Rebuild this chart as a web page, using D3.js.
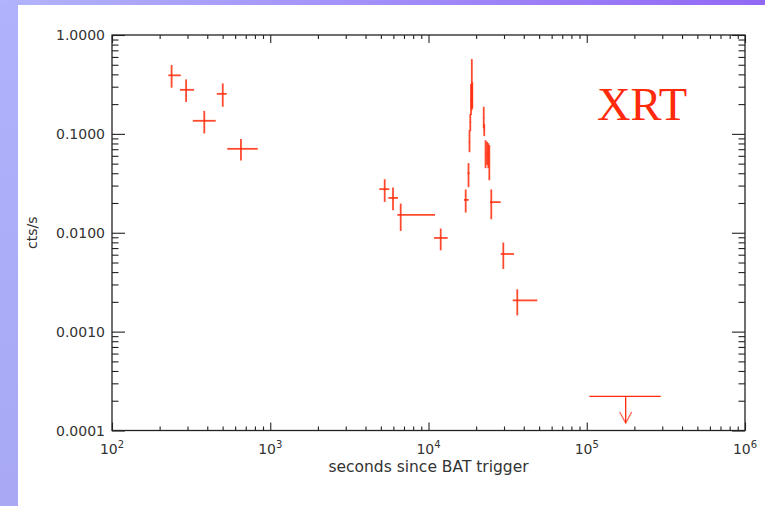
<!DOCTYPE html>
<html>
<head>
<meta charset="utf-8">
<script src="https://cdn.jsdelivr.net/npm/d3@7"></script>
<style>
  html, body { margin: 0; padding: 0; background: #fff; }
  svg { display: block; }
</style>
</head>
<body>
<svg id="chart" width="765" height="506"></svg>
<script>
// ---- data ----
const times    = [238, 294, 383, 501, 653, 5287, 5968, 6673, 11945,
                  17180, 17900, 18160, 18370, 18560, 18780, 18920,
                  22340, 22500, 22930, 23450, 23880, 24230,
                  24930, 29700, 36400];
const timeLo   = [227, 269, 324, 459, 535, 4889, 5572, 6350, 10830,
                  16760, 17640, 18000, 18250, 18450, 18680, 18850,
                  22200, 22400, 22800, 23300, 23750, 24100,
                  24470, 28590, 34050];
const timeHi   = [272, 330, 452, 531, 834, 5653, 6417, 10990, 13220,
                  17950, 18160, 18300, 18500, 18680, 18880, 19000,
                  22480, 22600, 23050, 23600, 24000, 24350,
                  28590, 34700, 48700];
const rates    = [0.391, 0.279, 0.1356, 0.254, 0.0706, 0.0276, 0.0225, 0.01515, 0.00886,
                  0.0215, 0.0400, 0.0825, 0.1315, 0.220, 0.265, 0.247,
                  0.1443, 0.109, 0.0609, 0.0638, 0.0609, 0.0518,
                  0.0204, 0.0061, 0.00207];
const rateLo   = [0.293, 0.210, 0.101, 0.188, 0.0538, 0.0205, 0.0169, 0.01043, 0.00665,
                  0.0160, 0.0289, 0.0653, 0.1066, 0.155, 0.174, 0.182,
                  0.1135, 0.0949, 0.045, 0.0483, 0.045, 0.034,
                  0.0137, 0.0043, 0.00146];
const rateHi   = [0.497, 0.356, 0.171, 0.324, 0.0885, 0.0348, 0.0287, 0.01975, 0.01103,
                  0.0274, 0.0506, 0.109, 0.1585, 0.319, 0.571, 0.334,
                  0.188, 0.1256, 0.0864, 0.0831, 0.0806, 0.0769,
                  0.0274, 0.00796, 0.00268];
// upper limit
const limitTime   = [176200];
const limitTimeLo = [103800];
const limitTimeHi = [293400];
const limitRate   = [0.000221];
const limitArrowTo = [0.000119];

const xTickValues = [1e2, 1e3, 1e4, 1e5, 1e6];
const xTickExponents = ["2", "3", "4", "5", "6"];
const yTickValues = [1e-4, 1e-3, 1e-2, 1e-1, 1];
const yTickLabels = ["0.0001", "0.0010", "0.0100", "0.1000", "1.0000"];
const xTitle = "seconds since BAT trigger";
const yTitle = "cts/s";
const panelLabel = "XRT";

// ---- layout ----
const svg = d3.select("#chart");
const W = 765, H = 506;
const L = 112, R = 745, T = 35, B = 430.5;
const red = "#ff2a0a";
const axisColor = "#222";
const textColor = "#333";

// background frame (gradient strips)
const defs = svg.append("defs");
const gTop = defs.append("linearGradient").attr("id", "gtop").attr("x1", "0").attr("x2", "1").attr("y1", "0").attr("y2", "0");
gTop.append("stop").attr("offset", "0").attr("stop-color", "#b2b4fc");
gTop.append("stop").attr("offset", "1").attr("stop-color", "#9268f4");
const gLeft = defs.append("linearGradient").attr("id", "gleft").attr("x1", "0").attr("x2", "0").attr("y1", "0").attr("y2", "1");
gLeft.append("stop").attr("offset", "0").attr("stop-color", "#b0b2fc");
gLeft.append("stop").attr("offset", "1").attr("stop-color", "#a8a8f4");
svg.append("rect").attr("x", 0).attr("y", 0).attr("width", W).attr("height", H).attr("fill", "#fff");
svg.append("rect").attr("x", 0).attr("y", 0).attr("width", 18).attr("height", H).attr("fill", "url(#gleft)");
svg.append("rect").attr("x", 0).attr("y", 0).attr("width", W).attr("height", 5).attr("fill", "url(#gtop)");

// ---- scales ----
const x = d3.scaleLog().domain([1e2, 1e6]).range([L, R]);
const y = d3.scaleLog().domain([1e-4, 1]).range([B, T]);

const minorX = [];
for (let e = 2; e < 6; e++) for (let m = 2; m <= 9; m++) minorX.push(m * Math.pow(10, e));
const minorY = [];
for (let e = -4; e < 0; e++) for (let m = 2; m <= 9; m++) minorY.push(m * Math.pow(10, e));

function styleAxis(g) {
  g.select(".domain").remove();
  g.selectAll("line").attr("stroke", axisColor).attr("stroke-width", 1.1);
  g.selectAll("text").remove();
}
// inward ticks on all four sides
svg.append("g").attr("transform", `translate(0,${B})`).call(d3.axisBottom(x).tickValues(xTickValues).tickSize(-8)).call(styleAxis);
svg.append("g").attr("transform", `translate(0,${B})`).call(d3.axisBottom(x).tickValues(minorX).tickSize(-4)).call(styleAxis);
svg.append("g").attr("transform", `translate(0,${T})`).call(d3.axisTop(x).tickValues(xTickValues).tickSize(-8)).call(styleAxis);
svg.append("g").attr("transform", `translate(0,${T})`).call(d3.axisTop(x).tickValues(minorX).tickSize(-4)).call(styleAxis);
svg.append("g").attr("transform", `translate(${L},0)`).call(d3.axisLeft(y).tickValues(yTickValues).tickSize(-13)).call(styleAxis);
svg.append("g").attr("transform", `translate(${L},0)`).call(d3.axisLeft(y).tickValues(minorY).tickSize(-6.5)).call(styleAxis);
svg.append("g").attr("transform", `translate(${R},0)`).call(d3.axisRight(y).tickValues(yTickValues).tickSize(-13)).call(styleAxis);
svg.append("g").attr("transform", `translate(${R},0)`).call(d3.axisRight(y).tickValues(minorY).tickSize(-6.5)).call(styleAxis);

// frame
svg.append("rect").attr("x", L).attr("y", T).attr("width", R - L).attr("height", B - T)
  .attr("fill", "none").attr("stroke", axisColor).attr("stroke-width", 1.3);

const font = "DejaVu Sans, Liberation Sans, sans-serif";

// x tick labels with superscript exponents
xTickValues.forEach((v, i) => {
  const t = svg.append("text").attr("x", x(v)).attr("y", 454)
    .attr("text-anchor", "middle").attr("font-family", font).attr("font-size", 14).attr("fill", textColor);
  t.append("tspan").text("10");
  t.append("tspan").attr("dy", -6).attr("font-size", 10).text(xTickExponents[i]);
});
// y tick labels
yTickValues.forEach((v, i) => {
  svg.append("text").attr("x", 105).attr("y", y(v)).attr("dy", "0.36em")
    .attr("text-anchor", "end").attr("font-family", font).attr("font-size", 14).attr("fill", textColor)
    .text(yTickLabels[i]);
});
// axis titles
svg.append("text").attr("x", (L + R) / 2).attr("y", 472).attr("text-anchor", "middle")
  .attr("font-family", font).attr("font-size", 15.5).attr("fill", textColor).text(xTitle);
svg.append("text").attr("transform", `translate(37,${(T + B) / 2}) rotate(-90)`).attr("text-anchor", "middle")
  .attr("font-family", font).attr("font-size", 14).attr("fill", textColor).text(yTitle);

// panel label
svg.append("text").attr("x", 597).attr("y", 120).attr("font-family", "Liberation Serif, Times New Roman, serif")
  .attr("font-size", 46.5).attr("fill", red).text(panelLabel);

// ---- error-bar crosses ----
const pts = times.map((t, i) => ({ t, tl: timeLo[i], th: timeHi[i], r: rates[i], rl: rateLo[i], rh: rateHi[i] }));
const gPts = svg.append("g").attr("stroke", red).attr("stroke-width", 1.8).attr("stroke-opacity", 0.85);
gPts.selectAll("line.h").data(pts).join("line").attr("class", "h")
  .attr("x1", d => x(d.tl)).attr("x2", d => x(d.th)).attr("y1", d => y(d.r)).attr("y2", d => y(d.r));
gPts.selectAll("line.v").data(pts).join("line").attr("class", "v")
  .attr("x1", d => x(d.t)).attr("x2", d => x(d.t)).attr("y1", d => y(d.rl)).attr("y2", d => y(d.rh));

// upper limit with arrow
const lim = limitTime.map((t, i) => ({ t, tl: limitTimeLo[i], th: limitTimeHi[i], r: limitRate[i], to: limitArrowTo[i] }));
const gLim = svg.append("g").attr("stroke", red).attr("stroke-width", 1.3).attr("fill", "none");
lim.forEach(d => {
  gLim.append("line").attr("x1", x(d.tl)).attr("x2", x(d.th)).attr("y1", y(d.r)).attr("y2", y(d.r));
  gLim.append("line").attr("x1", x(d.t)).attr("x2", x(d.t)).attr("y1", y(d.r)).attr("y2", y(d.to));
  gLim.append("path").attr("d", `M${x(d.t) - 6},${y(d.to) - 11} L${x(d.t)},${y(d.to)} L${x(d.t) + 6},${y(d.to) - 11}`)
    .attr("stroke-opacity", 0.7);
});
</script>
</body>
</html>
